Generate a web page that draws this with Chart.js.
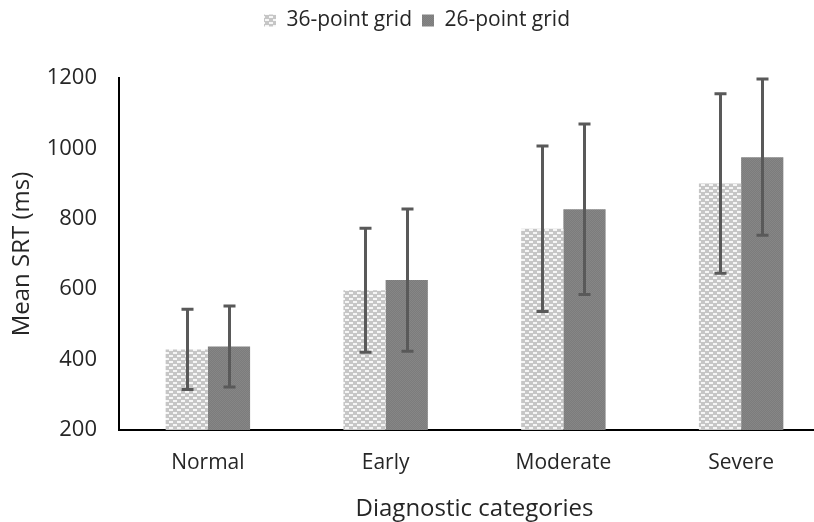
<!DOCTYPE html>
<html>
<head>
<meta charset="utf-8">
<script src="https://cdn.jsdelivr.net/npm/chart.js@4/dist/chart.umd.min.js"></script>
<style>
  html, body { margin: 0; padding: 0; background: #fff; overflow: hidden; }
  #wrap { width: 830px; height: 522px; }
</style>
</head>
<body>
<div id="wrap"><canvas id="c" width="830" height="522"></canvas></div>
<script>
// Diagnostic categories and mean saccadic reaction times (ms) with SD
const categories = ['Normal', 'Early', 'Moderate', 'Severe'];
const seriesNames = ['36-point grid', '26-point grid'];
const mean36 = [429, 597, 772, 900];
const sd36 = [114, 176, 235, 255];
const mean26 = [437, 626, 827, 975];
const sd26 = [115, 202, 242, 222];
const yTicks = [200, 400, 600, 800, 1000, 1200];

const FONT = '"Open Sans", sans-serif';
const TEXT = '#262626';

// Light grey fill with a brick-like pattern of white dashes
function brickPattern(ctx) {
  const t = document.createElement('canvas');
  t.width = 8; t.height = 6;
  const g = t.getContext('2d');
  g.fillStyle = '#c6c6c6';
  g.fillRect(0, 0, 8, 6);
  g.fillStyle = '#f6f6f6';
  g.fillRect(1, 1, 4, 2);
  g.fillRect(5, 4, 3, 2);
  g.fillRect(0, 4, 1, 2);
  return ctx.createPattern(t, 'repeat');
}
// Dark grey fill with a faint fine texture
function darkPattern(ctx) {
  const t = document.createElement('canvas');
  t.width = 2; t.height = 2;
  const g = t.getContext('2d');
  g.fillStyle = '#7c7c7c';
  g.fillRect(0, 0, 2, 2);
  g.fillStyle = '#868686';
  g.fillRect(0, 0, 1, 1);
  g.fillRect(1, 1, 1, 1);
  return ctx.createPattern(t, 'repeat');
}

const ctx = document.getElementById('c').getContext('2d');
const fill36 = brickPattern(ctx);
const fill26 = darkPattern(ctx);
const sds = [sd36, sd26];

// Draws ±SD whiskers on top of each bar using the y scale
const errorBars = {
  id: 'errorBars',
  afterDatasetsDraw(chart) {
    const c = chart.ctx;
    const y = chart.scales.y;
    c.save();
    c.strokeStyle = '#595959';
    c.lineWidth = 3;
    chart.data.datasets.forEach((ds, di) => {
      const meta = chart.getDatasetMeta(di);
      meta.data.forEach((bar, i) => {
        const v = ds.data[i];
        const yt = y.getPixelForValue(v + sds[di][i]);
        const yb = y.getPixelForValue(v - sds[di][i]);
        const x = Math.round(bar.x) + 0.5;
        c.beginPath();
        c.moveTo(x, yt); c.lineTo(x, yb);
        c.moveTo(x - 6, yt); c.lineTo(x + 6, yt);
        c.moveTo(x - 6, yb); c.lineTo(x + 6, yb);
        c.stroke();
      });
    });
    c.restore();
  }
};

// Extra room under the legend before the plot starts
const legendGap = {
  id: 'legendGap',
  beforeInit(chart) {
    const fit = chart.legend.fit;
    chart.legend.fit = function () {
      fit.call(this);
      this.height += 37;
    };
  }
};

new Chart(ctx, {
  type: 'bar',
  data: {
    labels: categories,
    datasets: [
      { label: seriesNames[0], data: mean36, backgroundColor: fill36, borderWidth: 0 },
      { label: seriesNames[1], data: mean26, backgroundColor: fill26, borderWidth: 0 }
    ]
  },
  options: {
    responsive: false,
    animation: false,
    devicePixelRatio: 1,
    layout: { padding: { top: 0, left: 4, right: 0, bottom: 0 } },
    datasets: { bar: { categoryPercentage: 0.475, barPercentage: 1.0 } },
    plugins: {
      tooltip: { enabled: false },
      legend: {
        position: 'top',
        labels: {
          font: { family: FONT, size: 21 },
          color: TEXT,
          boxWidth: 12, boxHeight: 12,
          padding: 10
        }
      }
    },
    scales: {
      x: {
        grid: { display: false, drawTicks: false },
        border: { display: true, color: '#000', width: 2 },
        ticks: { font: { family: FONT, size: 21 }, color: TEXT, padding: 20 },
        title: { display: true, text: 'Diagnostic categories', font: { family: FONT, size: 24 }, color: TEXT, padding: { top: 20, bottom: -2 } },
        afterFit(s) { s.height = 92; }
      },
      y: {
        min: 200, max: 1200,
        afterBuildTicks(s) { s.ticks = yTicks.map(v => ({ value: v })); },
        grid: { display: false, drawTicks: false },
        border: { display: true, color: '#000', width: 2 },
        ticks: { font: { family: FONT, size: 22 }, color: TEXT, padding: 22, callback: v => String(v) },
        title: { display: true, text: 'Mean SRT (ms)', font: { family: FONT, size: 24 }, color: TEXT, padding: { bottom: 4 } },
        afterFit(s) { s.width = 115; }
      }
    }
  },
  plugins: [errorBars, legendGap]
});
</script>
</body>
</html>
